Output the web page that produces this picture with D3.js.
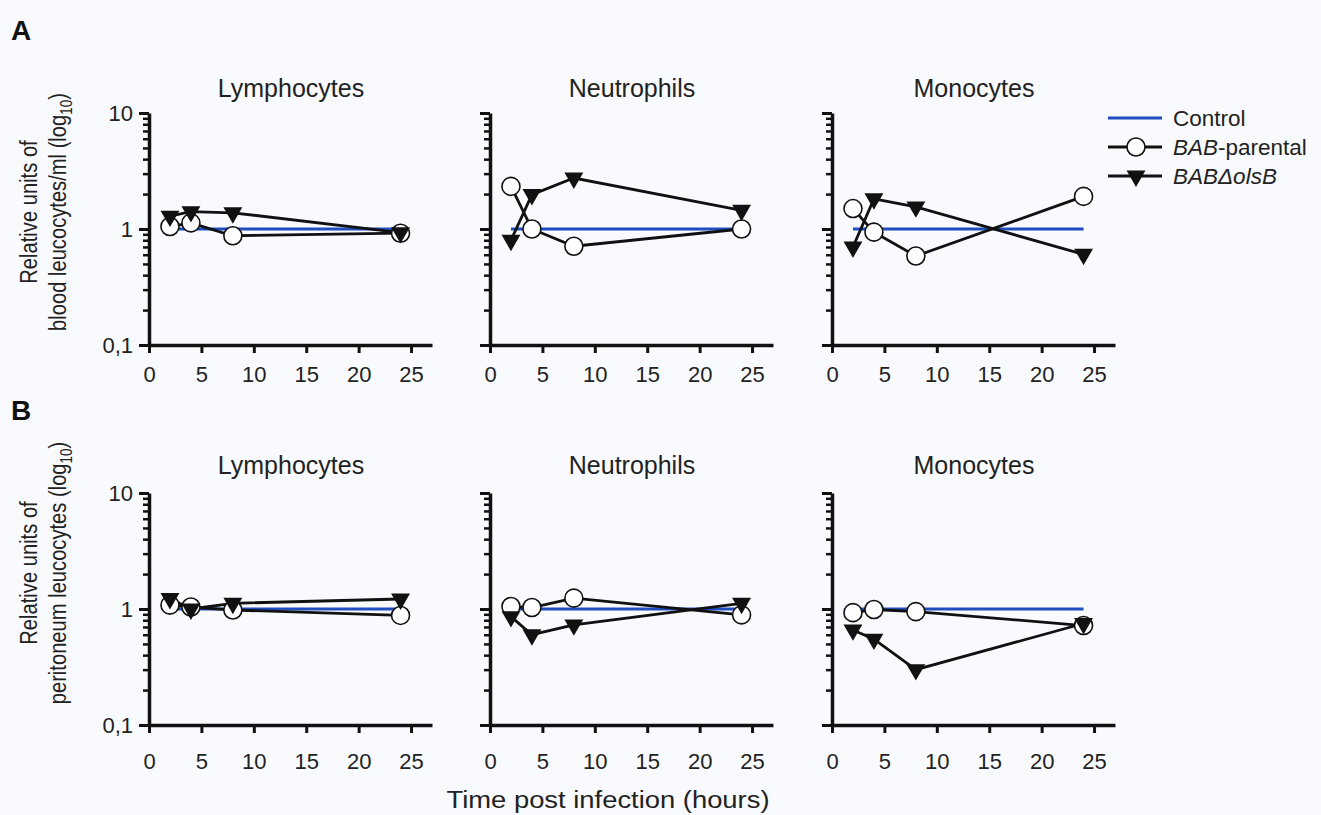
<!DOCTYPE html>
<html>
<head>
<meta charset="utf-8">
<script src="https://cdn.jsdelivr.net/npm/d3@7"></script>
<style>
  body { margin: 0; background: #f9fafd; }
  svg { font-family: "Liberation Sans", Arial, sans-serif; }
</style>
</head>
<body>
<script>
// data
const times = [2, 4, 8, 24];
const cellTypes = ["Lymphocytes", "Neutrophils", "Monocytes"];
const control = [1, 1, 1, 1];
// blood (A), one array per cell type
const bloodParental = [[1.05, 1.13, 0.875, 0.92], [2.33, 1.0, 0.71, 1.0], [1.50, 0.94, 0.585, 1.91]];
const bloodMutant = [[1.29, 1.41, 1.38, 0.93], [0.80, 1.98, 2.75, 1.45], [0.70, 1.82, 1.55, 0.605]];
// peritoneum (B)
const periParental = [[1.08, 1.04, 0.98, 0.88], [1.05, 1.03, 1.24, 0.89], [0.93, 0.99, 0.95, 0.72]];
const periMutant = [[1.23, 1.0, 1.12, 1.22], [0.86, 0.60, 0.73, 1.12], [0.66, 0.55, 0.30, 0.75]];
const xTicks = [0, 5, 10, 15, 20, 25];
const yMajor = [0.1, 1, 10];
const yMajorLabels = ["0,1", "1", "10"];
const yMinor = [0.2, 0.3, 0.4, 0.5, 0.6, 0.7, 0.8, 0.9, 2, 3, 4, 5, 6, 7, 8, 9];

const W = 1321, H = 815;
const svg = d3.select("body").append("svg")
    .attr("width", W).attr("height", H);

const colX = [149, 490, 832];
const rowY = [113, 493];
const ph = 232, pw = 283;
const blue = "#1f4fbf";
const ink = "#111";
const txt = "#222";

const x = d3.scaleLinear().domain([0, 27]).range([0, pw]);
const y = d3.scaleLog().domain([0.1, 10]).range([ph, 0]);

const rows = [
  {letter: "A", par: bloodParental, mut: bloodMutant, lab2: "blood leucocytes/ml (log", cy: 212, pad: 13},
  {letter: "B", par: periParental, mut: periMutant, lab2: "peritoneum leucocytes (log", cy: 573, pad: 20}
];

const line = d3.line().x((d, i) => x(times[i])).y(d => y(d));
const tri = d3.symbol().type(d3.symbolTriangle).size(155);

rows.forEach((row, r) => {
  svg.append("text")
      .attr("x", 11).attr("y", r == 0 ? 40 : 420)
      .attr("font-weight", "bold").attr("font-size", 28)
      .attr("fill", ink)
      .text(row.letter);

  // y axis title, two lines (squeezed along their length like the original)
  svg.append("text")
      .attr("transform", `translate(37,${row.cy}) rotate(-90) scale(0.84,1)`)
      .attr("text-anchor", "middle").attr("font-size", 24).attr("fill", txt)
      .text("Relative units of");
  const t2 = svg.append("text")
      .attr("transform", `translate(66,${row.cy}) rotate(-90) scale(0.84,1)`)
      .attr("text-anchor", "middle").attr("font-size", 24).attr("fill", txt);
  t2.append("tspan").text(row.lab2);
  t2.append("tspan").attr("font-size", 16).attr("dy", 6).text("10");
  t2.append("tspan").attr("dy", -6).text(")");

  cellTypes.forEach((name, c) => {
    const g = svg.append("g").attr("transform", `translate(${colX[c]},${rowY[r]})`);

    g.append("text")
        .attr("x", 142).attr("y", r == 0 ? -16 : -19)
        .attr("text-anchor", "middle").attr("font-size", 25).attr("fill", txt)
        .text(name);

    // minor ticks
    g.append("g")
        .call(d3.axisLeft(y).tickValues(yMinor).tickSize(6).tickSizeOuter(0).tickFormat(""))
        .call(a => a.select(".domain").remove())
        .call(a => a.selectAll("line").attr("stroke", ink).attr("stroke-width", 2.5));

    const ya = g.append("g")
        .call(d3.axisLeft(y).tickValues(yMajor).tickSize(10).tickSizeOuter(0)
          .tickPadding(6)
          .tickFormat((d, i) => c == 0 ? yMajorLabels[i] : ""));
    ya.select(".domain").attr("stroke", ink).attr("stroke-width", 3.5);
    ya.selectAll("line").attr("stroke", ink).attr("stroke-width", 3);
    ya.selectAll("text").attr("font-size", 22).attr("fill", txt)
        .attr("font-family", "'Liberation Sans', Arial, sans-serif");

    const xa = g.append("g").attr("transform", `translate(0,${ph})`)
        .call(d3.axisBottom(x).tickValues(xTicks).tickSize(8).tickSizeOuter(0).tickPadding(row.pad));
    xa.select(".domain").attr("stroke", ink).attr("stroke-width", 3.5);
    xa.selectAll("line").attr("stroke", ink).attr("stroke-width", 3);
    xa.selectAll("text").attr("font-size", 22).attr("fill", txt)
        .attr("font-family", "'Liberation Sans', Arial, sans-serif");

    // control
    g.append("path").datum(control)
        .attr("d", line).attr("fill", "none")
        .attr("stroke", blue).attr("stroke-width", 3);

    // parental
    g.append("path").datum(row.par[c])
        .attr("d", line).attr("fill", "none")
        .attr("stroke", ink).attr("stroke-width", 2.8);
    // mutant
    g.append("path").datum(row.mut[c])
        .attr("d", line).attr("fill", "none")
        .attr("stroke", ink).attr("stroke-width", 2.8);

    g.selectAll(".par").data(row.par[c]).join("circle")
        .attr("class", "par")
        .attr("cx", (d, i) => x(times[i])).attr("cy", d => y(d))
        .attr("r", 9).attr("fill", "#fff")
        .attr("stroke", ink).attr("stroke-width", 1.6);

    g.selectAll(".mut").data(row.mut[c]).join("path")
        .attr("class", "mut")
        .attr("d", tri)
        .attr("transform", (d, i) => `translate(${x(times[i])},${y(d)}) rotate(180)`)
        .attr("fill", ink);
  });
});

svg.append("text")
    .attr("x", 608).attr("y", 808)
    .attr("text-anchor", "middle").attr("font-size", 23).attr("fill", txt)
    .attr("textLength", 323).attr("lengthAdjust", "spacingAndGlyphs")
    .text("Time post infection (hours)");

// legend
const lg = svg.append("g").attr("transform", "translate(1108,118)");
const legendItems = [
  {kind: "control", y: 0},
  {kind: "par", y: 29},
  {kind: "mut", y: 58}
];
legendItems.forEach(it => {
  const row = lg.append("g").attr("transform", `translate(0,${it.y})`);
  row.append("line").attr("x1", 0).attr("x2", 54)
      .attr("stroke", it.kind == "control" ? blue : ink).attr("stroke-width", 3);
  if (it.kind == "par") {
    row.append("circle").attr("cx", 28).attr("r", 9)
        .attr("fill", "#fff").attr("stroke", ink).attr("stroke-width", 1.6);
  }
  if (it.kind == "mut") {
    row.append("path").attr("d", tri)
        .attr("transform", "translate(28,0) rotate(180)").attr("fill", ink);
  }
  const t = row.append("text").attr("x", 65).attr("y", 8)
      .attr("font-size", 22.5).attr("fill", txt);
  if (it.kind == "control") t.text("Control");
  if (it.kind == "par") {
    t.append("tspan").attr("font-style", "italic").text("BAB");
    t.append("tspan").text("-parental");
  }
  if (it.kind == "mut") t.attr("font-style", "italic").text("BABΔolsB");
});
</script>
</body>
</html>
